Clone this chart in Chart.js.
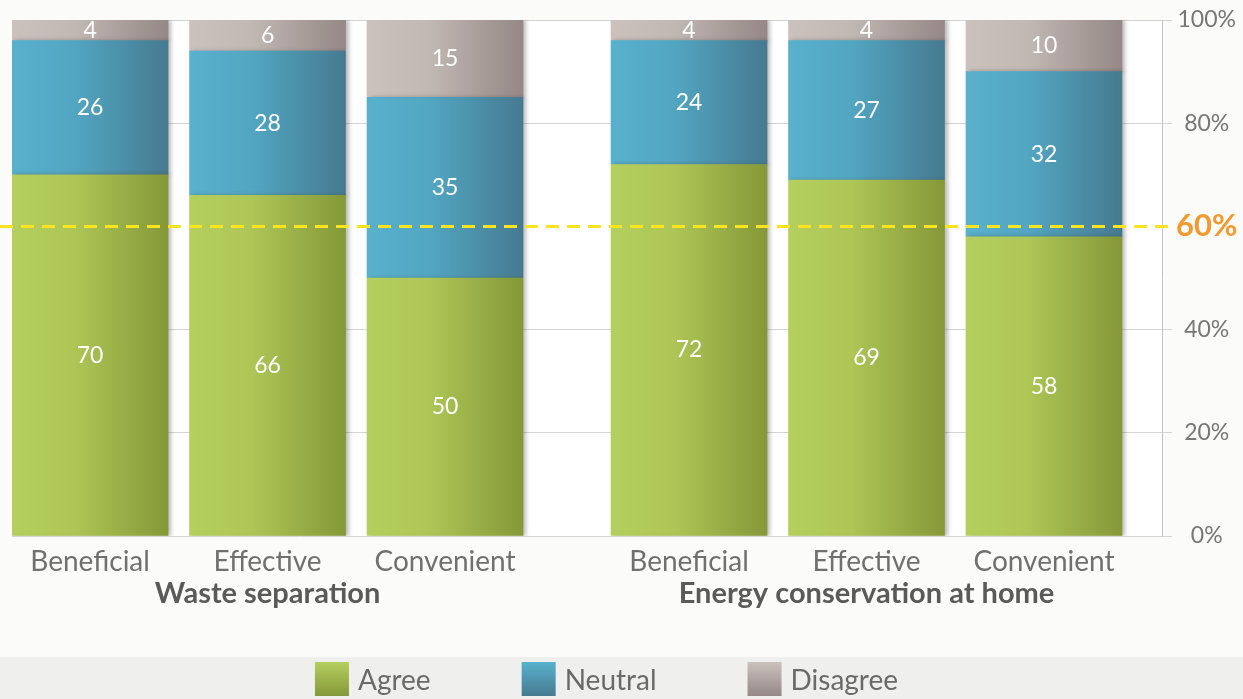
<!DOCTYPE html>
<html>
<head>
<meta charset="utf-8">
<title>Attitudes survey</title>
<script src="https://cdn.jsdelivr.net/npm/chart.js@4.4.1/dist/chart.umd.min.js"></script>
<style>
  html, body { margin: 0; padding: 0; background: #fbfbf9; }
  #wrap { width: 1243px; height: 699px; position: relative; }
</style>
</head>
<body>
<div id="wrap"><canvas id="surveyChart"></canvas></div>
<script>
// --- data ---
const categories = ["Beneficial", "Effective", "Convenient"];
const groups = ["Waste separation", "Energy conservation at home"];
const agree = [70, 66, 50, 72, 69, 58];
const neutral = [26, 28, 35, 24, 27, 32];
const disagree = [4, 6, 15, 4, 4, 10];
const yTicks = [0, 20, 40, 60, 80, 100];
const targetLine = 60;

// --- layout ---
const FONT = "Lato, 'Noto Sans', sans-serif";
const BAR_W = 156;
const GROUP_GAP = 0.375;          // extra space between the two groups (in bar slots)
const LEGEND_BAND = 42;

// x position of the i-th bar on the linear axis
function slotX(i) {
  return i + Math.floor(i / categories.length) * GROUP_GAP;
}
const slots = agree.map((_, i) => slotX(i));

// horizontal light -> dark gradient over one bar
function barGradient(light, mid, dark) {
  return (c) => {
    const chart = c.chart;
    if (!chart.chartArea || c.dataIndex === undefined) return light;
    const x = chart.scales.x.getPixelForValue(slotX(c.dataIndex));
    const g = chart.ctx.createLinearGradient(x - BAR_W / 2, 0, x + BAR_W / 2, 0);
    g.addColorStop(0, light);
    g.addColorStop(0.4, mid);
    g.addColorStop(1, dark);
    return g;
  };
}

const palette = {
  Agree: ["#b5cf5e", "#adc656", "#859838"],
  Neutral: ["#58b1cd", "#52a6c2", "#467a90"],
  Disagree: ["#cbc2be", "#c1b7b3", "#958886"]
};

function makeSet(label, values) {
  const p = palette[label];
  return {
    label: label,
    data: values.map((v, i) => ({ x: slotX(i), y: v })),
    backgroundColor: barGradient(p[0], p[1], p[2]),
    borderWidth: 0,
    barThickness: BAR_W
  };
}

// drop shadow on the bars, the 60% dashed line and the value labels
const barDecor = {
  id: "barDecor",
  beforeDraw(chart) {
    const { ctx, chartArea: a } = chart;
    ctx.save();
    ctx.fillStyle = "#ffffff";
    ctx.fillRect(a.left, a.top, a.right - a.left, a.bottom - a.top);
    ctx.restore();
  },
  beforeDatasetsDraw(chart) {
    const ctx = chart.ctx;
    ctx.save();
    ctx.shadowColor = "rgba(60,60,60,0.35)";
    ctx.shadowBlur = 4;
    ctx.shadowOffsetX = 3;
  },
  afterDatasetsDraw(chart) {
    const { ctx, chartArea: a, scales } = chart;
    ctx.restore();

    // dashed target line
    const y = scales.y.getPixelForValue(targetLine);
    ctx.save();
    ctx.strokeStyle = "#f9e41f";
    ctx.lineWidth = 3;
    ctx.setLineDash([13, 8]);
    ctx.beginPath();
    ctx.moveTo(0, y);
    ctx.lineTo(a.right + 10, y);
    ctx.stroke();
    ctx.restore();

    // value labels
    ctx.save();
    ctx.fillStyle = "#ffffff";
    ctx.font = "23px " + FONT;
    ctx.textAlign = "center";
    ctx.textBaseline = "middle";
    chart.data.datasets.forEach((ds, di) => {
      chart.getDatasetMeta(di).data.forEach((bar, i) => {
        ctx.fillText(String(ds.data[i].y), bar.x, (bar.y + bar.base) / 2);
      });
    });
    ctx.restore();
  },
  afterDraw(chart) {
    const { ctx, width, height, scales } = chart;

    // group titles under the category labels
    ctx.save();
    ctx.fillStyle = "#5a5a5a";
    ctx.font = "bold 29px " + FONT;
    ctx.textAlign = "center";
    ctx.textBaseline = "middle";
    groups.forEach((g, gi) => {
      const mid = gi * categories.length + Math.floor(categories.length / 2);
      ctx.fillText(g, scales.x.getPixelForValue(slotX(mid)), 594);
    });
    ctx.restore();

    // legend band
    const top = height - LEGEND_BAND;
    ctx.save();
    ctx.fillStyle = "#efefed";
    ctx.fillRect(0, top, width, LEGEND_BAND);
    ctx.font = "28px " + FONT;
    ctx.textBaseline = "middle";
    const box = 34, textGap = 9, itemGap = 91;
    const items = chart.data.datasets.map(ds => ({ label: ds.label, w: ctx.measureText(ds.label).width }));
    const total = items.reduce((s, it) => s + box + textGap + it.w, 0) + itemGap * (items.length - 1);
    let x = (width - total) / 2 - 15;
    items.forEach(it => {
      const p = palette[it.label];
      const g = ctx.createLinearGradient(0, top + 5, 0, top + 5 + box);
      g.addColorStop(0, p[0]);
      g.addColorStop(1, p[2]);
      ctx.fillStyle = g;
      ctx.fillRect(x, top + 5, box, box);
      ctx.fillStyle = "#6a6a6a";
      ctx.fillText(it.label, x + box + textGap, top + 24);
      x += box + textGap + it.w + itemGap;
    });
    ctx.restore();
  }
};

new Chart(document.getElementById("surveyChart"), {
  type: "bar",
  data: {
    datasets: [
      makeSet("Agree", agree),
      makeSet("Neutral", neutral),
      makeSet("Disagree", disagree)
    ]
  },
  options: {
    responsive: true,
    maintainAspectRatio: false,
    animation: false,
    layout: { padding: { left: 12, top: 20, right: 0, bottom: LEGEND_BAND } },
    plugins: {
      legend: { display: false },
      tooltip: { enabled: false }
    },
    scales: {
      x: {
        type: "linear",
        stacked: true,
        offset: false,
        min: -0.44,
        max: 6.04,
        grid: { display: false, offset: false },
        border: { display: false },
        afterBuildTicks: (axis) => { axis.ticks = slots.map(v => ({ value: v })); },
        afterFit: (axis) => { axis.height = 121; },
        ticks: {
          autoSkip: false,
          maxRotation: 0,
          padding: 1,
          color: "#707070",
          font: { family: FONT, size: 28 },
          callback: (v) => {
            const i = slots.indexOf(v);
            return i < 0 ? "" : categories[i % categories.length];
          }
        }
      },
      y: {
        stacked: true,
        position: "right",
        min: 0,
        max: 100,
        afterBuildTicks: (axis) => { axis.ticks = yTicks.map(v => ({ value: v })); },
        afterFit: (axis) => { axis.width = 81; },
        border: { display: true, color: "#c4c4c4", width: 1 },
        grid: {
          color: (c) => c.tick && c.tick.value === targetLine ? "rgba(0,0,0,0)" : "#d4d4d4",
          tickLength: 10,
          lineWidth: 1
        },
        ticks: {
          crossAlign: "center",
          padding: 4,
          color: (c) => c.tick.value === targetLine ? "#f29a30" : "#777777",
          font: (c) => c.tick && c.tick.value === targetLine
            ? { family: FONT, size: 31, weight: "bold" }
            : { family: FONT, size: 23 },
          callback: (v) => v + "%"
        }
      }
    }
  },
  plugins: [barDecor]
});
</script>
</body>
</html>
